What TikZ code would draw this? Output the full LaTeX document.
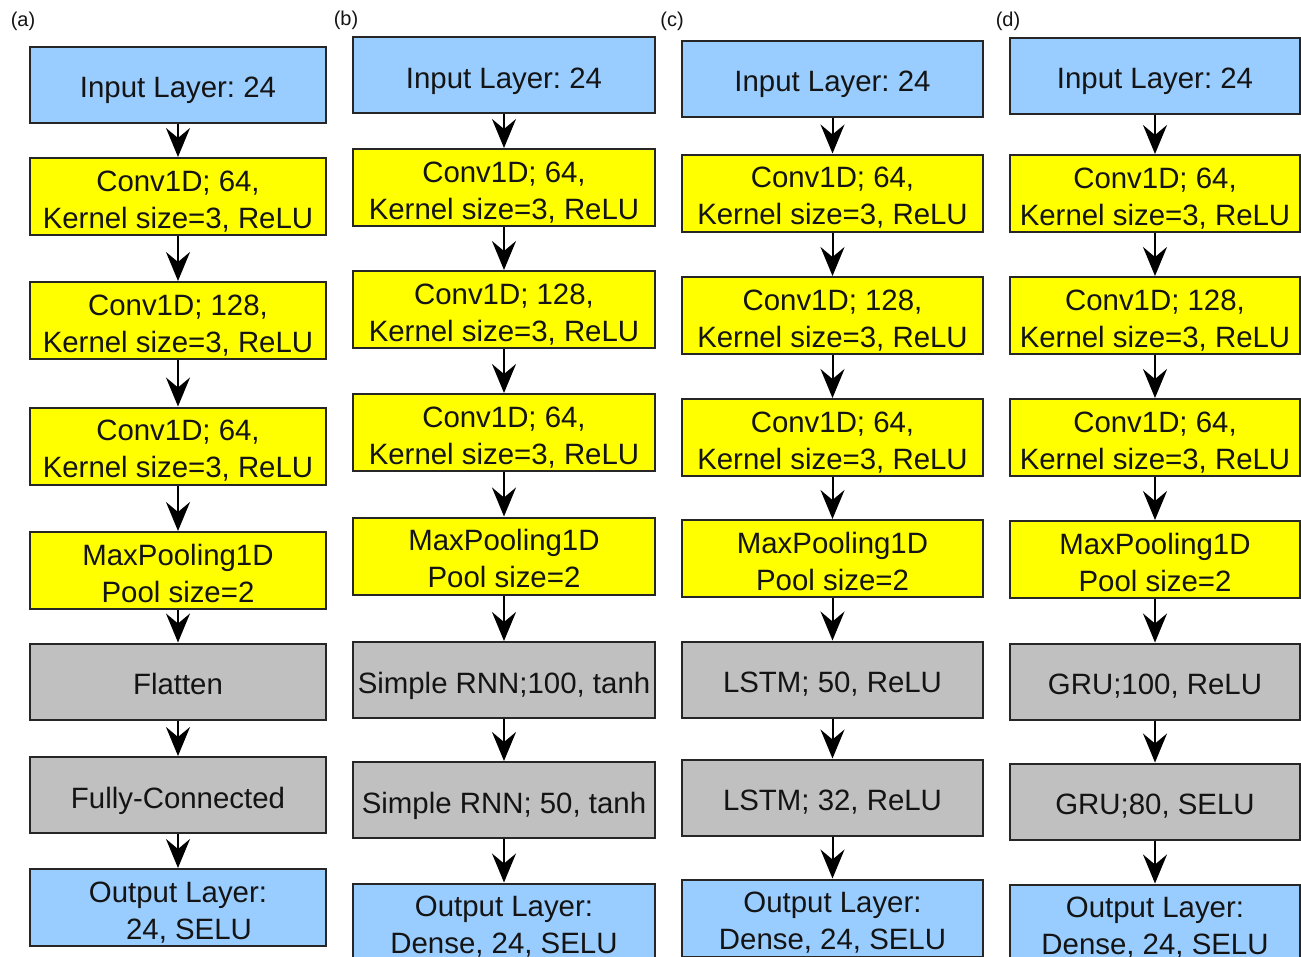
\documentclass[tikz,border=0pt]{standalone}
\usepackage{fontspec}
\setmainfont{Liberation Sans}
\usetikzlibrary{arrows.meta}
\frenchspacing
\definecolor{inblue}{HTML}{99CCFF}
\definecolor{convyel}{HTML}{FFFF00}
\definecolor{rnngray}{HTML}{C0C0C0}
\definecolor{edgec}{HTML}{262626}
\definecolor{txt}{HTML}{141414}
\newcommand\mytop{\rule{0pt}{33pt}}
\newcommand\mybot{\rule[-7pt]{0pt}{7pt}}
\tikzset{
  layer/.style={draw=edgec, line width=2pt, inner sep=0pt, align=center,
    minimum height=76pt, text=txt, font=\fontsize{29.4}{37}\selectfont},
  iobox/.style={layer, fill=inblue},
  convbox/.style={layer, fill=convyel},
  rnnbox/.style={layer, fill=rnngray},
  colA/.style={minimum width=296pt},
  colB/.style={minimum width=302pt},
  colC/.style={minimum width=301pt},
  colD/.style={minimum width=290pt},
  flow/.style={draw=black, line width=2pt, -{Stealth[length=29pt,width=24pt,inset=10pt]}},
  panel/.style={text=txt, font=\fontsize{20}{24}\selectfont, inner sep=0pt}
}
\begin{document}
\begin{tikzpicture}[x=1pt,y=-1pt]
\useasboundingbox (0,0) rectangle (1301,956);
\fill[white] (0,0) rectangle (1301,956);
\clip (0,0) rectangle (1301,956);

% panel labels
\node[panel] (la) at (23,21) {(a)};
\node[panel] (lb) at (346,20) {(b)};
\node[panel] (lc) at (672,21) {(c)};
\node[panel] (ld) at (1008,21) {(d)};

% column (a)
\node[iobox,colA]   (a1) at (178,84.5)  {\mytop Input Layer: 24\mybot};
\node[convbox,colA] (a2) at (178,196.5) {\mytop Conv1D; 64,\\Kernel size=3, ReLU\mybot};
\node[convbox,colA] (a3) at (178,320.5) {\mytop Conv1D; 128,\\Kernel size=3, ReLU\mybot};
\node[convbox,colA] (a4) at (178,446)   {\mytop Conv1D; 64,\\Kernel size=3, ReLU\mybot};
\node[convbox,colA] (a5) at (178,570.5) {\mytop MaxPooling1D\\Pool size=2\mybot};
\node[rnnbox,colA]  (a6) at (178,681.5) {\mytop Flatten\mybot};
\node[rnnbox,colA]  (a7) at (178,795)   {\mytop Fully-Connected\mybot};
\node[iobox,colA]   (a8) at (178,907.5) {\mytop Output Layer:\\\hspace*{22pt}24, SELU\mybot};

% column (b)
\node[iobox,colB]   (b1) at (504,75)    {\mytop Input Layer: 24\mybot};
\node[convbox,colB] (b2) at (504,187.5) {\mytop Conv1D; 64,\\Kernel size=3, ReLU\mybot};
\node[convbox,colB] (b3) at (504,309.5) {\mytop Conv1D; 128,\\Kernel size=3, ReLU\mybot};
\node[convbox,colB] (b4) at (504,432.5) {\mytop Conv1D; 64,\\Kernel size=3, ReLU\mybot};
\node[convbox,colB] (b5) at (504,556)   {\mytop MaxPooling1D\\Pool size=2\mybot};
\node[rnnbox,colB]  (b6) at (504,680)   {\mytop Simple RNN;100, tanh\mybot};
\node[rnnbox,colB]  (b7) at (504,800)   {\mytop Simple RNN; 50, tanh\mybot};
\node[iobox,colB]   (b8) at (504,922)   {\mytop Output Layer:\\Dense, 24, SELU\mybot};

% column (c)
\node[iobox,colC]   (c1) at (832.5,78.5)  {\mytop Input Layer: 24\mybot};
\node[convbox,colC] (c2) at (832.5,193)   {\mytop Conv1D; 64,\\Kernel size=3, ReLU\mybot};
\node[convbox,colC] (c3) at (832.5,315.5) {\mytop Conv1D; 128,\\Kernel size=3, ReLU\mybot};
\node[convbox,colC] (c4) at (832.5,437.5) {\mytop Conv1D; 64,\\Kernel size=3, ReLU\mybot};
\node[convbox,colC] (c5) at (832.5,558.5) {\mytop MaxPooling1D\\Pool size=2\mybot};
\node[rnnbox,colC]  (c6) at (832.5,679.5) {\mytop LSTM; 50, ReLU\mybot};
\node[rnnbox,colC]  (c7) at (832.5,797.5) {\mytop LSTM; 32, ReLU\mybot};
\node[iobox,colC]   (c8) at (832.5,918)   {\mytop Output Layer:\\Dense, 24, SELU\mybot};

% column (d)
\node[iobox,colD]   (d1) at (1155,75.5)  {\mytop Input Layer: 24\mybot};
\node[convbox,colD] (d2) at (1155,193.5) {\mytop Conv1D; 64,\\Kernel size=3, ReLU\mybot};
\node[convbox,colD] (d3) at (1155,315.5) {\mytop Conv1D; 128,\\Kernel size=3, ReLU\mybot};
\node[convbox,colD] (d4) at (1155,437.5) {\mytop Conv1D; 64,\\Kernel size=3, ReLU\mybot};
\node[convbox,colD] (d5) at (1155,559.5) {\mytop MaxPooling1D\\Pool size=2\mybot};
\node[rnnbox,colD]  (d6) at (1155,681.5) {\mytop GRU;100, ReLU\mybot};
\node[rnnbox,colD]  (d7) at (1155,801.5) {\mytop GRU;80, SELU\mybot};
\node[iobox,colD]   (d8) at (1155,923)   {\mytop Output Layer:\\Dense, 24, SELU\mybot};

% connectors
\foreach \c in {a,b,c,d}{
  \foreach \i [evaluate=\i as \j using int(\i+1)] in {1,...,7}{
    \draw[flow] (\c\i.south) -- (\c\j.north);
  }
}
\end{tikzpicture}
\end{document}
